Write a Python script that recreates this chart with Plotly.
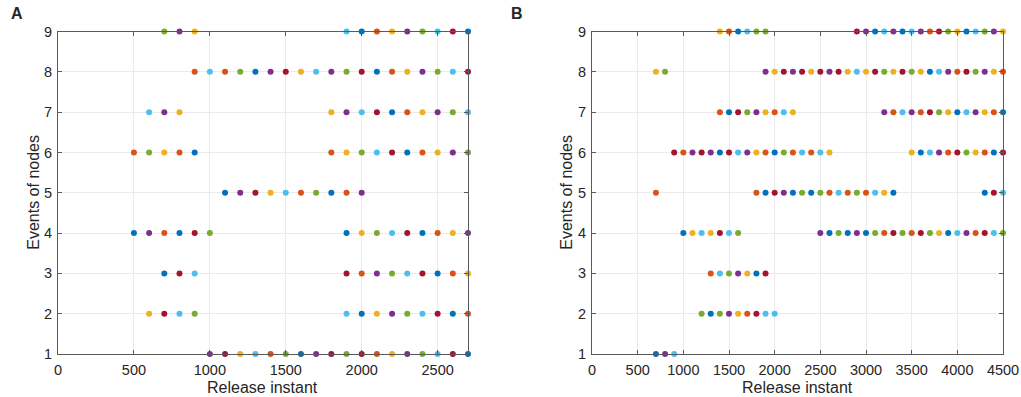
import plotly.graph_objects as go

# MATLAB default colour order
PALETTE = {"B": "#0072BD", "O": "#D95319", "Y": "#EDB120", "P": "#7E2F8E",
           "G": "#77AC30", "L": "#4DBEEE", "R": "#A2142F"}

# ---------------- Panel A data ----------------
a_nodes = [9, 8, 7, 6, 5, 4, 3, 2, 1]
a_x = [
    [700, 800, 900, 1900, 2000, 2100, 2200, 2300, 2400, 2500, 2600, 2700],
    [900, 1000, 1100, 1200, 1300, 1400, 1500, 1600, 1700, 1800, 1900, 2000, 2100, 2200, 2300, 2400, 2500, 2600, 2700],
    [600, 700, 800, 1800, 1900, 2000, 2100, 2200, 2300, 2400, 2500, 2600, 2700],
    [500, 600, 700, 800, 900, 1800, 1900, 2000, 2100, 2200, 2300, 2400, 2500, 2600, 2700],
    [1100, 1200, 1300, 1400, 1500, 1600, 1700, 1800, 1900, 2000],
    [500, 600, 700, 800, 900, 1000, 1900, 2000, 2100, 2200, 2300, 2400, 2500, 2600, 2700],
    [700, 800, 900, 1900, 2000, 2100, 2200, 2300, 2400, 2500, 2600, 2700],
    [600, 700, 800, 900, 1900, 2000, 2100, 2200, 2300, 2400, 2500, 2600, 2700],
    [1000, 1100, 1200, 1300, 1400, 1500, 1600, 1700, 1800, 1900, 2000, 2100, 2200, 2300, 2400, 2500, 2600, 2700],
]
a_colors = [
    "GPYLBOYPGLRB",
    "OLOGBPRYLPGRBOYPGLR",
    "LPYYPLRBOYPGL",
    "OGYOBOYGLRBOYPG",
    "BPRYLOGBOP",
    "BPOBRGBYGLRBOYP",
    "BRLROPGLRBOY",
    "YRLGLBYPGLRBO",
    "PRYLOGBPRGROYPGLRB",
]

# ---------------- Panel B data ----------------
b_nodes = [9, 8, 7, 6, 5, 4, 3, 2, 1]
b_x = [
    [1400, 1500, 1600, 1700, 1800, 1900,
     2900, 3000, 3100, 3200, 3300, 3400, 3500, 3600, 3700, 3800, 3900, 4000, 4100, 4200, 4300, 4400, 4500],
    [700, 800,
     1900, 2000, 2100, 2200, 2300, 2400, 2500, 2600, 2700, 2800, 2900, 3000, 3100, 3200, 3300, 3400, 3500,
     3600, 3700, 3800, 3900, 4000, 4100, 4200, 4300, 4400, 4500],
    [1400, 1500, 1600, 1700, 1800, 1900, 2000, 2100, 2200,
     3200, 3300, 3400, 3500, 3600, 3700, 3800, 3900, 4000, 4100, 4200, 4300, 4400, 4500],
    [900, 1000, 1100, 1200, 1300, 1400, 1500, 1600, 1700, 1800, 1900, 2000, 2100, 2200, 2300, 2400, 2500, 2600,
     3500, 3600, 3700, 3800, 3900, 4000, 4100, 4200, 4300, 4400, 4500],
    [700,
     1800, 1900, 2000, 2100, 2200, 2300, 2400, 2500, 2600, 2700, 2800, 2900, 3000, 3100, 3200, 3300,
     4300, 4400, 4500],
    [1000, 1100, 1200, 1300, 1400, 1500, 1600,
     2500, 2600, 2700, 2800, 2900, 3000, 3100, 3200, 3300, 3400, 3500, 3600, 3700, 3800, 3900, 4000,
     4100, 4200, 4300, 4400, 4500],
    [1300, 1400, 1500, 1600, 1700, 1800, 1900],
    [1200, 1300, 1400, 1500, 1600, 1700, 1800, 1900, 2000],
    [700, 800, 900],
]
b_colors = [
    "YOBLGG" + "RPBLPBLPORGYBLGPY",
    "YG" + "PYRPRYRPRYLYRGYRGYBLPORGPYO",
    "OBRGPYOLY" + "POLPORGYBLPYOB",
    "ROPRPBRLPYOBGOLOLY" + "YBLPORGYOBR",
    "O" + "OBRPBGBGOLOGOLYB" + "BRL",
    "BYLYRLG" + "PBGBPBGORGORGYBLPORLG",
    "OLGPYBR",
    "GBGPYORLL",
    "BPL",
]

a_xticks = [0, 500, 1000, 1500, 2000, 2500]
b_xticks = [0, 500, 1000, 1500, 2000, 2500, 3000, 3500, 4000, 4500]
yticks = [1, 2, 3, 4, 5, 6, 7, 8, 9]

W, H = 1021, 397
FONT = "Liberation Sans, Arial, Helvetica, sans-serif"
AXC = "#5a5a5a"
GRID = "#ebebeb"
TXT = "#262626"

fig = go.Figure()


def add_panel(nodes, xs, cols, xa, ya):
    for n, xrow, crow in zip(nodes, xs, cols):
        fig.add_trace(go.Scatter(
            x=xrow, y=[n] * len(xrow), mode="markers",
            marker=dict(size=6, color=[PALETTE[c] for c in crow], line=dict(width=0)),
            xaxis=xa, yaxis=ya, cliponaxis=False, showlegend=False, hoverinfo="x+y"))


add_panel(a_nodes, a_x, a_colors, "x", "y")
add_panel(b_nodes, b_x, b_colors, "x2", "y2")

ydom = [(H - 354) / H, (H - 31.5) / H]

common = dict(showgrid=True, gridcolor=GRID, gridwidth=1, zeroline=False,
              showline=True, linecolor=AXC, linewidth=1, mirror="ticks",
              ticks="inside", ticklen=4, tickcolor=AXC, automargin=False,
              tickfont=dict(family=FONT, size=14.5, color=TXT), fixedrange=True)


def xaxis(dom, rng, ticks, anchor):
    return dict(domain=dom, range=rng, tickvals=ticks, ticktext=[str(t) for t in ticks],
                anchor=anchor, ticklabelstandoff=3, **common)


def yaxis(anchor, rng):
    return dict(domain=ydom, range=rng, tickvals=yticks, ticktext=[str(t) for t in yticks],
                anchor=anchor, ticklabelstandoff=2, **common)


a_dom = [58 / W, 468 / W]
b_dom = [592 / W, 1003 / W]

fig.update_layout(
    width=W, height=H, margin=dict(l=0, r=0, t=0, b=0, autoexpand=False),
    paper_bgcolor="white", plot_bgcolor="white",
    font=dict(family=FONT, color=TXT),
    xaxis=xaxis(a_dom, [0, 2700], a_xticks, "y"),
    yaxis=yaxis("x", [1, 9]),
    xaxis2=xaxis(b_dom, [0, 4500], b_xticks, "y2"),
    yaxis2=yaxis("x2", [1, 9]),
)

ymid = (ydom[0] + ydom[1]) / 2
annots = [
    dict(text="<b>A</b>", x=17 / W, y=1 - 14 / H, font=dict(size=16)),
    dict(text="<b>B</b>", x=517 / W, y=1 - 14 / H, font=dict(size=16)),
    dict(text="Release instant", x=(a_dom[0] + a_dom[1]) / 2, y=1 - 387 / H, font=dict(size=16)),
    dict(text="Release instant", x=(b_dom[0] + b_dom[1]) / 2, y=1 - 387 / H, font=dict(size=16)),
    dict(text="Events of nodes", x=34 / W, y=ymid, textangle=-90, font=dict(size=16)),
    dict(text="Events of nodes", x=567 / W, y=ymid, textangle=-90, font=dict(size=16)),
]
for a in annots:
    fig.add_annotation(xref="paper", yref="paper", showarrow=False,
                       xanchor="center", yanchor="middle",
                       **{k: v for k, v in a.items() if k != "font"},
                       font=dict(family=FONT, color=TXT, **a["font"]))

fig.write_html("out.html", config={"displayModeBar": False},
               post_script="document.body.style.margin='0';document.body.style.overflow='hidden';")
